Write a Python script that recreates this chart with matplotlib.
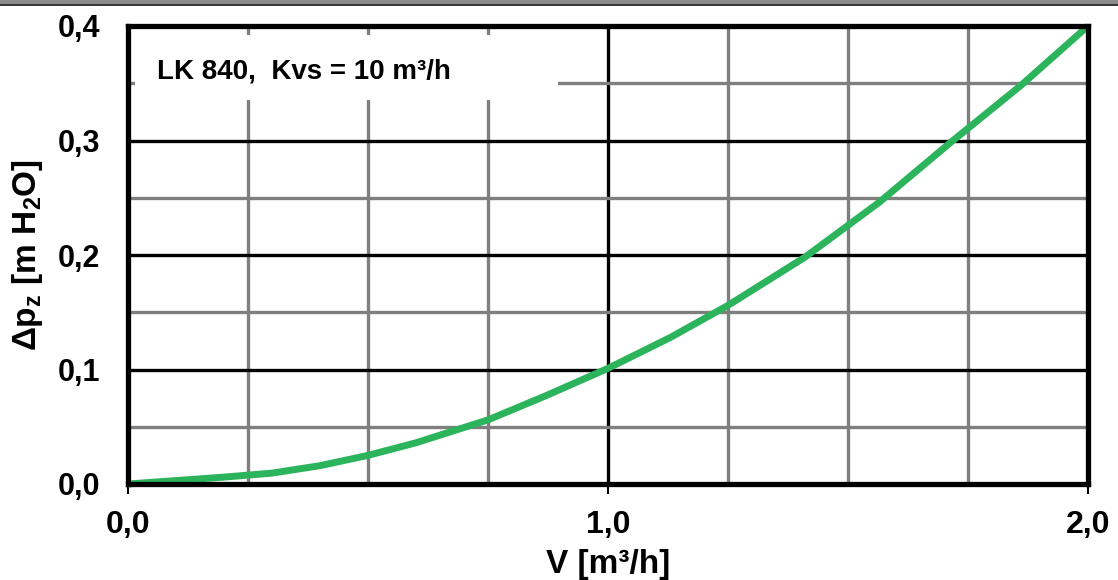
import matplotlib
matplotlib.use('Agg')
import matplotlib.pyplot as plt
from matplotlib.patches import Rectangle

# =====================================
# Data
# =====================================
flow = [0.0, 0.1, 0.2, 0.3, 0.4, 0.5, 0.6, 0.75, 0.87, 1.0, 1.13, 1.25,
        1.41, 1.565, 1.71, 1.86, 2.0]
dp = [0.0, 0.003, 0.006, 0.0095, 0.016, 0.025, 0.036, 0.056, 0.077, 0.101,
      0.128, 0.156, 0.198, 0.246, 0.297, 0.348, 0.400]

x_major = [0.0, 1.0, 2.0]
x_major_labels = ['0,0', '1,0', '2,0']
x_minor = [0.25, 0.5, 0.75, 1.25, 1.5, 1.75]
y_major = [0.0, 0.1, 0.2, 0.3, 0.4]
y_major_labels = ['0,0', '0,1', '0,2', '0,3', '0,4']
y_minor = [0.05, 0.15, 0.25, 0.35]

title_text = 'LK 840,  Kvs = 10 m³/h'

# =====================================
# Fonts
# =====================================
plt.rcParams['font.family'] = ['Liberation Sans', 'DejaVu Sans']
plt.rcParams['font.weight'] = 'bold'
plt.rcParams['mathtext.fontset'] = 'custom'
plt.rcParams['mathtext.rm'] = 'Liberation Sans:bold'
plt.rcParams['mathtext.it'] = 'Liberation Sans:bold'
plt.rcParams['mathtext.bf'] = 'Liberation Sans:bold'

# =====================================
# Plot
# =====================================
fig = plt.figure(figsize=(11.18, 5.8), dpi=100)
ax = fig.add_axes([128 / 1118, 96 / 580, 960 / 1118, 458 / 580])

# grey band at the very top of the picture
fig.patches.append(Rectangle((0, 1 - 4 / 580), 1, 4 / 580, transform=fig.transFigure,
                             facecolor='#8c8c8c', edgecolor='none'))
fig.patches.append(Rectangle((0, 1 - 6 / 580), 1, 2 / 580, transform=fig.transFigure,
                             facecolor='#3a3a3a', edgecolor='none'))

ax.plot(flow, dp, color='#2bb45c', lw=5, solid_capstyle='butt',
        solid_joinstyle='round', zorder=4, clip_on=False)

ax.set_xlim(0, 2.0)
ax.set_ylim(0, 0.4)
ax.set_xticks(x_major)
ax.set_xticklabels(x_major_labels)
ax.set_xticks(x_minor, minor=True)
ax.set_yticks(y_major)
ax.set_yticklabels(y_major_labels)
ax.set_yticks(y_minor, minor=True)

ax.grid(which='major', color='black', lw=2.4)
ax.grid(which='minor', color='#7f7f7f', lw=2.4)

ax.tick_params(axis='x', which='major', length=7, width=1.5, direction='out',
               pad=12, labelsize=23)
ax.tick_params(axis='y', which='major', length=0, pad=20, labelsize=22)
ax.tick_params(which='minor', length=0)

for s in ax.spines.values():
    s.set_linewidth(3.8)
    s.set_zorder(5)

# white label box over the grid
ax.add_patch(Rectangle((0.007, 0.838), 0.441, 0.142, transform=ax.transAxes,
                       facecolor='white', edgecolor='none', zorder=3))
ax.text(0.030, 0.900, title_text, transform=ax.transAxes, fontsize=20,
        fontweight='bold', va='center', ha='left', zorder=4)

ax.set_xlabel('V [m³/h]', fontsize=24, fontweight='bold')
ax.xaxis.set_label_coords(0.5, -0.175)
ax.xaxis.label.set_va('center')
ax.set_ylabel(r'$\Delta$p$_z$ [m H$_2$O]', fontsize=24, fontweight='bold')
ax.yaxis.set_label_coords(-0.105, 0.5)
ax.yaxis.label.set_va('center')

fig.savefig('out.png', dpi=100)
